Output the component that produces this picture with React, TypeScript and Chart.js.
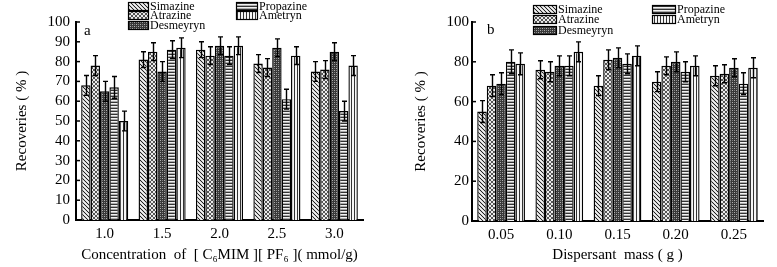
import React, { useEffect, useRef } from 'react';
import { Chart, registerables } from 'chart.js';
Chart.register(...registerables);

// ---------- data ----------
const seriesNames = ['Simazine', 'Atrazine', 'Desmeyryn', 'Propazine', 'Ametryn'];

const categoriesA = ['1.0', '1.5', '2.0', '2.5', '3.0'];
const simazineA = [68, 81, 86, 79, 75];
const atrazineA = [78, 85, 83, 77, 76];
const desmeyrynA = [65, 75, 88, 87, 85];
const propazineA = [67, 86, 83, 61, 55];
const ametrynA = [50, 87, 88, 83, 78];
const simazineErrA = [5, 4, 4, 4.5, 5];
const atrazineErrA = [5, 4.5, 4.5, 4.5, 4.5];
const desmeyrynErrA = [5, 5, 4.5, 4.5, 4.5];
const propazineErrA = [5.5, 4.5, 4.5, 5, 5];
const ametrynErrA = [5, 5, 4.5, 4.5, 5];

const categoriesB = ['0.05', '0.10', '0.15', '0.20', '0.25'];
const simazineB = [55, 76, 68, 70, 73];
const atrazineB = [68, 75, 81, 78, 74];
const desmeyrynB = [69, 78, 82, 80, 77];
const propazineB = [80, 78, 79, 75, 69];
const ametrynB = [79, 85, 83, 78, 77];
const simazineErrB = [5.5, 4.5, 5, 5, 5];
const atrazineErrB = [5.5, 5, 5, 4.5, 4.5];
const desmeyrynErrB = [5.5, 5, 5, 5, 4.5];
const propazineErrB = [6, 5, 5, 5, 5.5];
const ametrynErrB = [5.5, 5, 5, 5, 5];

const yTicksA = { min: 0, max: 100, step: 10 };
const yTicksB = { min: 0, max: 100, step: 20 };

const FONT = '"Liberation Serif", "DejaVu Serif", serif';

// ---------- patterns ----------
function makePattern(kind: string): CanvasPattern | string {
  const c = document.createElement('canvas');
  const size = kind === 'h' || kind === 'v' ? 3 : 4;
  c.width = size;
  c.height = size;
  const g = c.getContext('2d')!;
  const px = (x: number, y: number, col: string) => {
    g.fillStyle = col;
    g.fillRect(x, y, 1, 1);
  };
  if (kind === 'diag') {
    g.fillStyle = '#d4d4d4';
    g.fillRect(0, 0, size, size);
    for (let k = 0; k < 4; k++) px(k, k, '#222');
    for (let k = 0; k < 4; k++) px((k + 2) % 4, k, '#f4f4f4');
  } else if (kind === 'cross') {
    g.fillStyle = '#ececec';
    g.fillRect(0, 0, size, size);
    for (let k = 0; k < 4; k++) {
      px(k, k, '#555');
      px(k, 3 - k, '#555');
    }
  } else if (kind === 'dark') {
    g.fillStyle = '#383838';
    g.fillRect(0, 0, size, size);
    px(0, 0, '#b0b0b0');
    px(2, 2, '#b0b0b0');
    px(2, 0, '#808080');
    px(0, 2, '#808080');
  } else if (kind === 'h') {
    g.fillStyle = '#f2f2f2';
    g.fillRect(0, 0, size, size);
    g.fillStyle = '#333';
    g.fillRect(0, 0, size, 1);
    g.fillStyle = '#aaa';
    g.fillRect(0, 2, size, 1);
  } else {
    g.fillStyle = '#f6f6f6';
    g.fillRect(0, 0, size, size);
    g.fillStyle = '#333';
    g.fillRect(0, 0, 1, size);
  }
  return g.createPattern(c, 'repeat') || '#999';
}

// ---------- plugins ----------
const errorBarPlugin = {
  id: 'errorBars',
  afterDatasetsDraw(chart: any) {
    const ctx = chart.ctx;
    const ys = chart.scales.y;
    ctx.save();
    ctx.strokeStyle = '#000';
    ctx.lineWidth = 1.4;
    chart.data.datasets.forEach((ds: any, i: number) => {
      const meta = chart.getDatasetMeta(i);
      meta.data.forEach((bar: any, j: number) => {
        const v = ds.data[j];
        const e = ds.errorBars[j];
        const top = ys.getPixelForValue(v + e);
        const bot = ys.getPixelForValue(v - e);
        const x = Math.round(bar.x) + 0.5;
        ctx.beginPath();
        ctx.moveTo(x, top);
        ctx.lineTo(x, bot);
        ctx.moveTo(x - 2.5, top);
        ctx.lineTo(x + 2.5, top);
        ctx.moveTo(x - 2.5, bot);
        ctx.lineTo(x + 2.5, bot);
        ctx.stroke();
      });
    });
    ctx.restore();
  },
};

const extrasPlugin = {
  id: 'extras',
  afterDraw(chart: any, _args: any, opts: any) {
    const ctx = chart.ctx;
    const ys = chart.scales.y;
    const left = chart.chartArea.left;
    ctx.save();
    // inward y ticks
    ctx.strokeStyle = '#000';
    ctx.lineWidth = 1.5;
    ys.ticks.forEach((_t: any, i: number) => {
      const py = ys.getPixelForTick(i);
      ctx.beginPath();
      ctx.moveTo(left, py);
      ctx.lineTo(left + 4, py);
      ctx.stroke();
    });
    // panel letter
    ctx.fillStyle = '#000';
    ctx.font = '15px ' + FONT;
    ctx.textBaseline = 'middle';
    ctx.textAlign = 'left';
    ctx.fillText(opts.letter, opts.letterX, opts.letterY);
    // legend
    ctx.font = '12px ' + FONT;
    opts.legend.forEach((it: any) => {
      const ds = chart.data.datasets[it.ds];
      ctx.fillStyle = ds.backgroundColor;
      ctx.fillRect(it.x, it.y, it.w, it.h);
      ctx.lineWidth = 1.2;
      ctx.strokeStyle = '#000';
      ctx.strokeRect(it.x + 0.5, it.y + 0.5, it.w, it.h);
      ctx.fillStyle = '#000';
      ctx.fillText(ds.label, it.x + it.w + 2, it.y + it.h / 2 + 0.5);
    });
    ctx.restore();
  },
};

function buildConfig(p: any) {
  const kinds = ['diag', 'cross', 'dark', 'h', 'v'];
  const datasets = p.series.map((s: number[], i: number) => ({
    label: seriesNames[i],
    data: s,
    errorBars: p.errors[i],
    backgroundColor: makePattern(kinds[i]),
    borderColor: '#000',
    borderWidth: 1.4,
    barPercentage: 1,
    categoryPercentage: 0.82,
  }));
  return {
    type: 'bar',
    data: { labels: p.labels, datasets },
    plugins: [errorBarPlugin, extrasPlugin],
    options: {
      animation: false,
      responsive: false,
      maintainAspectRatio: false,
      layout: { padding: { left: 0, right: p.padRight, top: 22, bottom: 0 } },
      plugins: {
        legend: { display: false },
        tooltip: { enabled: false },
        extras: {
          letter: p.letter,
          letterX: p.letterX,
          letterY: p.letterY,
          legend: p.legend,
        },
      },
      scales: {
        x: {
          grid: { display: false, drawTicks: false },
          border: { display: true, color: '#000', width: 2 },
          ticks: { color: '#000', font: { family: FONT, size: 15 }, padding: 5 },
          title: {
            display: true,
            text: p.xTitle,
            color: '#000',
            font: { family: FONT, size: 15 },
            padding: { top: 0, bottom: 3 },
          },
          afterFit: (s: any) => {
            s.height = p.xHeight;
          },
        },
        y: {
          min: p.yTicks.min,
          max: p.yTicks.max,
          grid: { display: false, drawTicks: false },
          border: { display: true, color: '#000', width: 2 },
          ticks: {
            stepSize: p.yTicks.step,
            autoSkip: false,
            maxTicksLimit: 20,
            color: '#000',
            font: { family: FONT, size: 15, lineHeight: 1 },
            padding: p.yPad,
          },
          title: {
            display: true,
            text: 'Recoveries ( % )',
            color: '#000',
            font: { family: FONT, size: 15 },
            padding: { top: p.yTitlePad, bottom: 0 },
          },
          afterFit: (s: any) => {
            s.width = p.yWidth;
          },
        },
      },
    },
  };
}

function Panel(props: { cfg: any; left: number; width: number }) {
  const ref = useRef<HTMLCanvasElement>(null);
  useEffect(() => {
    const chart = new Chart(ref.current!, buildConfig(props.cfg) as any);
    return () => chart.destroy();
  }, []);
  return (
    <canvas
      ref={ref}
      width={props.width}
      height={267}
      style={{ position: 'absolute', left: props.left, top: 0, width: props.width, height: 267 }}
    />
  );
}

const cfgA = {
  labels: categoriesA,
  series: [simazineA, atrazineA, desmeyrynA, propazineA, ametrynA],
  errors: [simazineErrA, atrazineErrA, desmeyrynErrA, propazineErrA, ametrynErrA],
  yTicks: yTicksA,
  xTitle: 'Concentration  of  [ C\u2086MIM ][ PF\u2086 ]( mmol/g)',
  yWidth: 76,
  yPad: 6,
  yTitlePad: 13,
  xHeight: 47,
  padRight: 27,
  letter: 'a',
  letterX: 84,
  letterY: 31,
  legend: [
    { ds: 0, x: 128, y: 2, w: 20, h: 8 },
    { ds: 1, x: 128, y: 11, w: 20, h: 8 },
    { ds: 2, x: 128, y: 21, w: 20, h: 8 },
    { ds: 3, x: 236, y: 2, w: 21, h: 8 },
    { ds: 4, x: 236, y: 11, w: 21, h: 8 },
  ],
};

const cfgB = {
  labels: categoriesB,
  series: [simazineB, atrazineB, desmeyrynB, propazineB, ametrynB],
  errors: [simazineErrB, atrazineErrB, desmeyrynErrB, propazineErrB, ametrynErrB],
  yTicks: yTicksB,
  xTitle: 'Dispersant  mass ( g )',
  yWidth: 82,
  yPad: 3,
  yTitlePad: 22,
  xHeight: 46,
  padRight: 14,
  letter: 'b',
  letterX: 97,
  letterY: 30,
  legend: [
    { ds: 0, x: 143, y: 5, w: 23, h: 8 },
    { ds: 1, x: 143, y: 15, w: 23, h: 8 },
    { ds: 2, x: 143, y: 26, w: 23, h: 8 },
    { ds: 3, x: 262, y: 5, w: 23, h: 8 },
    { ds: 4, x: 262, y: 15, w: 23, h: 8 },
  ],
};

export default function App() {
  return (
    <div style={{ position: 'fixed', left: 0, top: 0, width: 777, height: 267, background: '#fff' }}>
      <Panel cfg={cfgA} left={0} width={390} />
      <Panel cfg={cfgB} left={390} width={387} />
    </div>
  );
}
